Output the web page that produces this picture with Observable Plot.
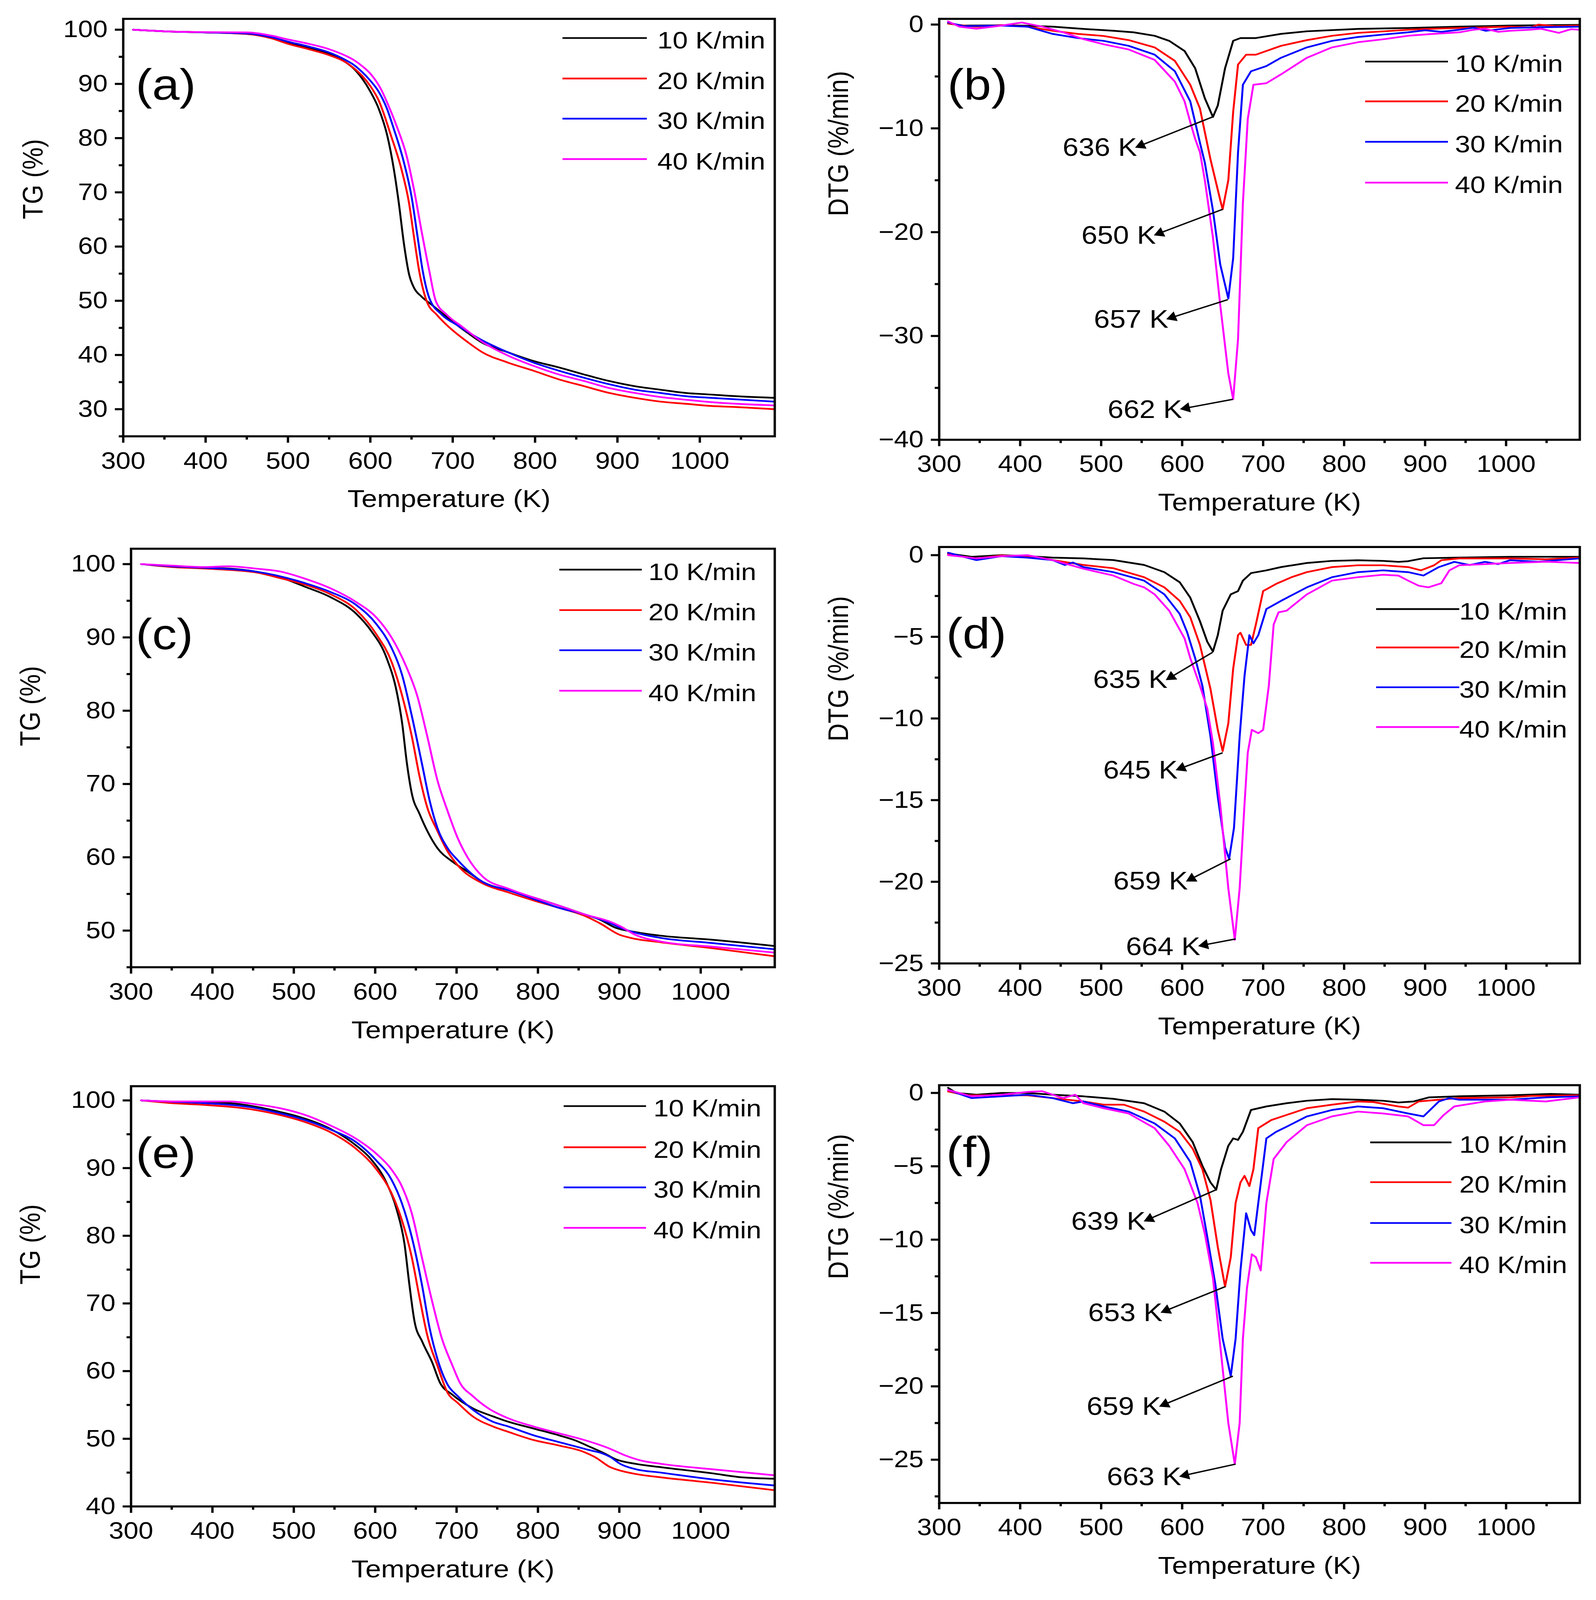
<!DOCTYPE html>
<html>
<head>
<meta charset="utf-8">
<script src="https://cdn.jsdelivr.net/npm/d3@7"></script>
<script src="https://cdn.jsdelivr.net/npm/@observablehq/plot@0.6"></script>
<style>
  html, body { margin: 0; background: #fff; overflow: hidden; font-family: "Liberation Sans", Arial, sans-serif; }
  #fig { position: relative; width: 4086px; height: 4626px; background: #fff; transform-origin: 0 0; }
  #fig > svg, #fig > figure { position: absolute; margin: 0; }
</style>
</head>
<body>
<div id="fig"></div>
<script>
// heating rates and colours
const rates = ["10 K/min", "20 K/min", "30 K/min", "40 K/min"];
const colors = ["#000000", "#ff0000", "#0000ff", "#ff00ff"];

// axis ticks
const xTicks = [300, 400, 500, 600, 700, 800, 900, 1000];
const xMinor = [350, 450, 550, 650, 750, 850, 950, 1050];
const ticksA = [30, 40, 50, 60, 70, 80, 90, 100];
const minorA = [25, 35, 45, 55, 65, 75, 85, 95];
const ticksB = [-40, -30, -20, -10, 0];
const minorB = [-35, -25, -15, -5];
const ticksC = [50, 60, 70, 80, 90, 100];
const minorC = [45, 55, 65, 75, 85, 95];
const ticksD = [-25, -20, -15, -10, -5, 0];
const minorD = [-22.5, -17.5, -12.5, -7.5, -2.5];
const ticksE = [40, 50, 60, 70, 80, 90, 100];
const minorE = [45, 55, 65, 75, 85, 95];
const ticksF = [-25, -20, -15, -10, -5, 0];
const minorF = [-27.5, -22.5, -17.5, -12.5, -7.5, -2.5];

// (a) TG, [T (K), mass %]
const tgA10 = [[312,100],[350,99.7],[400,99.5],[450,99.25],[480,98.5],[500,97.6],[525,96.6],[550,95.5],[570,94],[580,92.8],[590,91],[600,88.6],[610,85.5],[620.5,80.5],[628.5,74.3],[634.6,68],[640.8,60.5],[647,54.9],[653,52.4],[662,50.8],[674.6,49.25],[705.5,45.5],[718,44.1],[736,42.25],[767,40.5],[798,38.9],[829,37.7],[859.5,36.4],[890,35.2],[921,34.25],[952,33.6],[983,33],[1013.5,32.7],[1044,32.4],[1090,32.1]];
const tgA20 = [[312,100],[350,99.7],[400,99.5],[450,99.2],[480,98.4],[500,97.4],[525,96.4],[550,95.3],[570,94],[580,92.9],[590,91.5],[600,89.6],[610,87],[625,80.5],[637.7,74.3],[647,68],[653,61.75],[659.3,55.5],[668.5,49.9],[680.8,47.4],[693,45.5],[718,42.4],[736,40.5],[767,38.6],[798,37.1],[829,35.5],[859.5,34.25],[890,33],[921,32.1],[952,31.4],[983,31],[1013.5,30.6],[1044,30.4],[1090,30]];
const tgA30 = [[312,100],[350,99.7],[400,99.5],[450,99.3],[480,98.6],[500,97.8],[525,96.9],[550,95.8],[570,94.4],[580,93.5],[590,92.2],[600,90.6],[610,88.6],[620,85.5],[628.4,81.75],[640.8,75.5],[650,69.25],[657.4,61.75],[663.6,55.5],[671.6,50.5],[687,47.4],[705.5,45.5],[736,42.7],[767,40.5],[798,38.6],[829,37.1],[859.5,35.8],[890,34.6],[921,33.6],[952,33],[983,32.4],[1013.5,32.1],[1090,31.4]];
const tgA40 = [[312,100],[350,99.7],[400,99.55],[450,99.5],[480,98.9],[500,98.2],[525,97.4],[550,96.4],[570,95.2],[580,94.4],[590,93.3],[600,91.9],[613,89],[622,86],[631.5,82.4],[644,76.75],[653,70.5],[662,63],[671.6,55.5],[679.6,49.9],[693,47.4],[711.6,45.2],[736,42.4],[767,39.9],[798,38],[829,36.4],[859.5,35.2],[890,33.9],[921,33],[952,32.25],[983,31.75],[1013.5,31.3],[1090,30.7]];

// (b) DTG, [T (K), %/min]
const dtgB10 = [[311,0.1],[330,-0.1],[377,-0.07],[410,-0.12],[440,-0.2],[478,-0.42],[515,-0.6],[540,-0.75],[566,-1.08],[584,-1.57],[603,-2.55],[616,-4.2],[628,-7.1],[638,-8.9],[644,-7.8],[653,-4.2],[663,-1.57],[672,-1.3],[691,-1.3],[722,-0.9],[754,-0.65],[817,-0.42],[879,-0.33],[942,-0.2],[1005,-0.1],[1060,-0.05],[1091,-0.03]];
const dtgB20 = [[311,0.1],[330,-0.1],[346,-0.2],[377,-0.05],[409,-0.2],[440,-0.6],[471,-0.9],[503,-1.1],[534,-1.5],[566,-2.2],[591,-3.5],[610,-5.8],[622,-8.1],[635,-13],[647,-16.9],[650,-17.8],[657,-15],[663,-8.4],[669,-3.85],[679,-2.9],[691,-2.9],[722,-2.05],[754,-1.5],[785,-1.08],[817,-0.8],[850,-0.65],[879,-0.5],[910,-0.4],[942,-0.33],[1005,-0.2],[1030,-0.3],[1040,0],[1060,-0.15],[1091,-0.1]];
const dtgB30 = [[311,0.2],[330,-0.15],[377,-0.1],[409,-0.2],[440,-0.9],[471,-1.3],[503,-1.57],[534,-2.05],[566,-2.9],[591,-4.5],[610,-7.4],[622,-11.4],[628,-13.3],[638,-17.9],[647,-23.1],[657,-26.4],[663,-22.5],[669,-12.3],[675,-5.8],[685,-4.5],[704,-4],[722,-3.2],[754,-2.2],[785,-1.57],[817,-1.2],[850,-0.95],[879,-0.75],[900,-0.55],[920,-0.7],[942,-0.5],[960,-0.3],[975,-0.6],[1005,-0.33],[1050,-0.25],[1091,-0.2]];
const dtgB40 = [[311,0.3],[325,-0.2],[346,-0.4],[377,-0.1],[402,0.2],[427,-0.2],[453,-0.75],[478,-1.4],[503,-1.9],[534,-2.4],[566,-3.4],[591,-5.5],[603,-7.4],[610,-9.4],[616,-11],[622,-12.3],[628,-15],[638,-20.5],[647,-27],[657,-33.6],[663,-36.1],[669,-30.3],[675,-17.2],[681,-9.1],[688,-5.8],[704,-5.65],[722,-4.8],[754,-3.2],[785,-2.2],[817,-1.7],[850,-1.4],[879,-1.08],[910,-0.9],[942,-0.75],[960,-0.5],[974,-0.4],[990,-0.7],[1005,-0.6],[1030,-0.5],[1043,-0.4],[1065,-0.8],[1080,-0.45],[1091,-0.5]];

// (c) TG
const tgC10 = [[312.5,100],[350,99.7],[389,99.5],[420,99.4],[452,99],[483,98.2],[514,96.9],[545,95.5],[577,93.2],[595,90.9],[614,87.2],[626.6,82.5],[633,78.4],[639,72.8],[645,68.7],[654.6,65.9],[664,63.6],[676.5,61.25],[695,59.4],[714,58],[732.7,56.6],[764,55.5],[795,54.5],[826,53.4],[857.6,52.2],[876,51.5],[895,50.4],[920,49.8],[951,49.3],[1014,48.75],[1090.5,47.9]];
const tgC20 = [[312.5,100],[350,99.6],[389,99.4],[452,98.9],[483,98.1],[514,97.2],[545,95.9],[577,93.7],[601.6,90.4],[620,86.7],[633,82.1],[645,76.5],[654.6,71],[664,66.8],[676.5,63.6],[689,60.8],[701.5,58.9],[732.7,56.4],[764,55.2],[795,54.1],[826,53.1],[857.6,52],[876,51],[901,49.4],[914,49],[951,48.4],[1014,47.6],[1090.5,46.5]];
const tgC30 = [[312.5,100],[350,99.7],[389,99.5],[452,99],[514,97.4],[545,96.2],[577,94.4],[601.6,91.8],[620,88.6],[633,84.9],[645,79.3],[657.4,72.8],[667,67.7],[676.5,64],[689,61.25],[701.5,59.6],[732.7,56.6],[764,55.5],[795,54.3],[826,53.1],[857.6,52.2],[889,51],[901,50.4],[920,49.7],[951,49],[1014,48.3],[1090.5,47.45]];
const tgC40 = [[312.5,100],[350,99.8],[389,99.6],[420,99.7],[452,99.4],[483,99],[514,98],[545,96.7],[577,94.8],[601.6,92.7],[620,90],[639,85.8],[651.5,82.1],[664,76.5],[676.5,70.5],[689,66.3],[701.5,62.6],[714,59.9],[732.7,57.3],[764,55.7],[795,54.5],[826,53.4],[857.6,52.2],[889,51.2],[901,50.6],[920,49.4],[951,48.5],[1014,47.8],[1090.5,47]];

// (d) DTG
const dtgD10 = [[311,0.1],[340,-0.1],[377,0],[409,-0.06],[440,-0.15],[478,-0.2],[515,-0.3],[553,-0.6],[578,-1.04],[597,-1.66],[610,-2.6],[622,-4.05],[631,-5.3],[638,-5.9],[644,-4.9],[650,-3.4],[660,-2.4],[669,-2.2],[675,-1.56],[685,-1.1],[704,-0.93],[722,-0.73],[754,-0.48],[785,-0.35],[817,-0.31],[848,-0.35],[867,-0.41],[879,-0.37],[898,-0.19],[942,-0.15],[1005,-0.1],[1091,-0.1]];
const dtgD20 = [[311,0.05],[330,-0.1],[346,-0.2],[377,-0.02],[409,-0.1],[440,-0.3],[478,-0.6],[515,-0.8],[553,-1.35],[578,-1.97],[597,-2.8],[610,-3.8],[622,-5.5],[635,-8.2],[644,-10.7],[650,-12],[657,-10.3],[663,-6.95],[669,-4.9],[672,-4.75],[679,-5.5],[685,-5.5],[691,-4.25],[700,-2.2],[716,-1.76],[735,-1.35],[754,-1.04],[785,-0.73],[817,-0.62],[848,-0.62],[879,-0.73],[895,-0.93],[911,-0.62],[920,-0.31],[942,-0.2],[1005,-0.2],[1050,-0.25],[1091,-0.15]];
const dtgD30 = [[311,0.15],[330,-0.1],[346,-0.3],[377,-0.06],[409,-0.15],[440,-0.3],[455,-0.6],[465,-0.45],[478,-0.73],[515,-1.04],[553,-1.56],[578,-2.4],[597,-3.6],[606,-4.7],[616,-6.3],[625,-8],[635,-11.1],[644,-14.8],[653,-17.9],[658,-18.6],[664,-16.7],[671,-11.1],[677,-7.4],[683,-4.9],[688,-5.4],[694,-4.9],[704,-3.3],[722,-2.8],[754,-1.97],[785,-1.35],[817,-1.04],[848,-0.93],[879,-1.04],[898,-1.25],[917,-0.73],[936,-0.41],[955,-0.6],[974,-0.41],[990,-0.55],[1005,-0.31],[1040,-0.4],[1091,-0.2]];
const dtgD40 = [[311,0],[330,-0.1],[346,-0.2],[377,-0.06],[409,0],[440,-0.3],[478,-0.83],[515,-1.25],[540,-1.76],[553,-1.97],[566,-2.4],[584,-3.4],[603,-5.1],[610,-6.3],[622,-8],[631,-9.4],[638,-11.5],[647,-15.25],[657,-20.4],[665,-23.55],[671,-20.4],[677,-15.25],[681,-12.1],[686,-10.7],[694,-10.9],[700,-10.7],[707,-8],[713,-4.25],[719,-3.5],[729,-3.4],[754,-2.4],[785,-1.56],[817,-1.35],[848,-1.2],[867,-1.25],[879,-1.56],[892,-1.87],[904,-1.97],[920,-1.72],[930,-0.93],[942,-0.62],[1005,-0.48],[1050,-0.4],[1091,-0.48]];

// (e) TG
const tgE10 = [[312.5,100],[350,99.8],[389,99.7],[420.5,99.6],[452,99.1],[483,98.3],[514,97.3],[545,95.8],[577,93.3],[595,91.3],[614,87.8],[626.6,83.8],[636,78.8],[642,72.8],[648.4,67.3],[658,64.3],[670,61.3],[679.6,58.3],[695,56.5],[720,54.5],[745,53.3],[764,52.5],[795,51.5],[826,50.5],[845,49.8],[864,48.8],[882.5,47.8],[895,47],[920,46.3],[951,45.8],[1014,44.9],[1051,44.3],[1090.5,44.1]];
const tgE20 = [[312.5,100],[350,99.6],[389,99.35],[452,98.6],[483,97.85],[514,96.8],[545,95.3],[577,92.8],[601.6,89.8],[620,86.3],[632.8,82.3],[645,76.8],[654.6,70.8],[664,65.3],[676.5,60.8],[689,56.8],[701.5,55.3],[720,53.3],[745,51.8],[764,51],[795,49.8],[826,49],[857.6,48],[870,47.3],[889,45.8],[901,45.3],[920,44.8],[951,44.3],[1014,43.5],[1090.5,42.4]];
const tgE30 = [[312.5,100],[350,99.8],[389,99.6],[452,98.9],[483,98.1],[514,97.1],[545,95.7],[577,93.8],[601.6,91.1],[620,88.3],[632.8,84.8],[645,79.8],[657.4,72.8],[667,66.3],[676.5,61.8],[689,58],[701.5,56.3],[720,54.3],[745,52.5],[764,51.8],[795,50.5],[826,49.5],[857.6,48.5],[889,47.3],[901,46.3],[920,45.5],[951,45],[1014,44],[1090.5,43.1]];
const tgE40 = [[312.5,100],[350,99.85],[389,99.85],[420.5,99.85],[452,99.45],[483,98.85],[514,97.85],[545,96.3],[577,94.3],[601.6,92.1],[620,89.8],[632.8,87.3],[645,83.3],[657.4,76.8],[670,70.3],[682,64.8],[695,60.8],[704,58.3],[720,56.3],[739,54.5],[764,53],[795,51.8],[826,50.8],[857.6,49.8],[889,48.5],[908,47.5],[926,46.8],[951,46.3],[1014,45.5],[1090.5,44.6]];

// (f) DTG
const dtgF10 = [[311,0.35],[321,0],[346,-0.12],[377,0],[409,0],[440,-0.12],[478,-0.23],[515,-0.4],[553,-0.7],[578,-1.27],[597,-2.08],[613,-3.35],[625,-4.97],[635,-6.1],[642,-6.6],[648,-5.2],[657,-3.6],[663,-3.1],[669,-3.2],[675,-2.65],[685,-1.16],[704,-0.92],[729,-0.7],[754,-0.53],[785,-0.42],[817,-0.46],[848,-0.53],[867,-0.65],[886,-0.58],[905,-0.3],[942,-0.23],[1005,-0.16],[1055,-0.07],[1091,-0.12]];
const dtgF20 = [[311,0.1],[333,-0.16],[377,-0.16],[409,-0.16],[440,-0.35],[478,-0.58],[503,-0.8],[528,-0.8],[553,-1.27],[578,-1.96],[597,-2.65],[613,-3.8],[625,-5.2],[635,-7.3],[644,-10.5],[653,-13.2],[660,-11.2],[666,-7.5],[672,-6.1],[677,-5.65],[683,-6.35],[688,-5.2],[694,-2.4],[710,-1.85],[729,-1.5],[754,-1.04],[785,-0.8],[817,-0.58],[836,-0.62],[867,-0.92],[879,-1],[892,-0.58],[917,-0.46],[942,-0.35],[1005,-0.3],[1030,-0.2],[1091,-0.16]];
const dtgF30 = [[311,0.2],[340,-0.35],[377,-0.23],[409,-0.12],[440,-0.35],[465,-0.7],[478,-0.58],[503,-0.92],[534,-1.27],[566,-2.08],[591,-3.1],[610,-4.7],[622,-7],[631,-9.8],[641,-13.05],[650,-16.75],[660,-19.3],[666,-16.75],[672,-12.1],[679,-8.2],[685,-9.35],[689,-9.7],[694,-7.5],[704,-3.1],[716,-2.65],[729,-2.3],[754,-1.6],[785,-1.16],[817,-0.92],[848,-1.04],[879,-1.4],[898,-1.6],[917,-0.58],[930,-0.35],[942,-0.46],[1005,-0.46],[1050,-0.3],[1091,-0.23]];
const dtgF40 = [[311,0.2],[340,-0.23],[377,-0.12],[409,0.07],[427,0.12],[453,-0.35],[468,-0.12],[478,-0.7],[503,-1.04],[534,-1.4],[566,-2.4],[584,-3.6],[603,-5.2],[619,-7.5],[628,-9.6],[638,-12.6],[647,-17.2],[657,-22.5],[665,-25.3],[671,-22.5],[675,-16.75],[680,-13.3],[686,-11],[691,-11.2],[697,-12.1],[704,-7.5],[713,-4.5],[729,-3.35],[754,-2.2],[785,-1.6],[817,-1.27],[848,-1.4],[879,-1.6],[898,-2.2],[911,-2.2],[923,-1.5],[936,-0.92],[974,-0.58],[1005,-0.46],[1049,-0.58],[1091,-0.3]];

// peak annotations: label, peak point, arrow tip (data units)
const peakLabelsB = ["636 K", "650 K", "657 K", "662 K"];
const peakTB = [637.5, 650, 656.3, 662.6];
const peakVB = [-8.9, -17.8, -26.5, -36.1];
const tipTB = [545.4, 568.6, 584, 601];
const tipVB = [-11.75, -20.2, -28.3, -37.0];

const peakLabelsD = ["635 K", "645 K", "659 K", "664 K"];
const peakTD = [637.5, 650, 659.7, 666];
const peakVD = [-5.95, -12.1, -18.6, -23.5];
const tipTD = [583, 595.5, 608, 623.5];
const tipVD = [-7.56, -13.1, -19.9, -23.9];

const peakLabelsF = ["639 K", "653 K", "659 K", "663 K"];
const peakTF = [641.9, 653.4, 662.6, 666];
const peakVF = [-6.6, -13.2, -19.3, -25.3];
const tipTF = [556, 576.8, 575, 600];
const tipVF = [-8.67, -14.9, -21.3, -26.1];

function annotations(labels, pT, pV, tT, tV) {
  return labels.map((label, i) => ({label, x1: pT[i], y1: pV[i], x2: tT[i], y2: tV[i]}));
}

const panels = [
  {tag: "(a)", series: [tgA10, tgA20, tgA30, tgA40], yDomain: [25, 102], yTicks: ticksA, yMinor: minorA, yTitle: "TG (%)", curve: "monotone-x", ann: null,
   left: 0, top: 0, height: 1540, margins: [54, 60, 279, 315], yTitleDx: -230, yTitleDy: -24, tagDx: 32, tagDy: 144,
   legend: {lx: 1440, len: 216, tx: 1683, rows: [116, 233, 349, 466]}},
  {tag: "(b)", series: [dtgB10, dtgB20, dtgB30, dtgB40], yDomain: [-40, 0.55], yTicks: ticksB, yMinor: minorB, yTitle: "DTG (%/min)", curve: "linear",
   ann: annotations(peakLabelsB, peakTB, peakVB, tipTB, tipVB),
   left: 2043, top: 0, height: 1540, margins: [54, 42, 269, 361], yTitleDx: -257, yTitleDy: -38, tagDx: 21, tagDy: 144,
   legend: {lx: 3495, len: 212, tx: 3725, rows: [184, 299, 416, 534]}},
  {tag: "(c)", series: [tgC10, tgC20, tgC30, tgC40], yDomain: [45, 102.1], yTicks: ticksC, yMinor: minorC, yTitle: "TG (%)", curve: "monotone-x", ann: null,
   left: 0, top: 1540, height: 1540, margins: [46, 60, 284, 335], yTitleDx: -257, yTitleDy: -34, tagDx: 12, tagDy: 201,
   legend: {lx: 1432, len: 211, tx: 1660, rows: [1653, 1770, 1886, 2003]}},
  {tag: "(d)", series: [dtgD10, dtgD20, dtgD30, dtgD40], yDomain: [-25, 0.5], yTicks: ticksD, yMinor: minorD, yTitle: "DTG (%/min)", curve: "linear",
   ann: annotations(peakLabelsD, peakTD, peakVD, tipTD, tipVD),
   left: 2043, top: 1540, height: 1540, margins: [41, 42, 295, 361], yTitleDx: -257, yTitleDy: -40, tagDx: 18, tagDy: 204,
   legend: {lx: 3523, len: 213, tx: 3736, rows: [1767, 1878, 1993, 2108]}},
  {tag: "(e)", series: [tgE10, tgE20, tgE30, tgE40], yDomain: [40, 102.1], yTicks: ticksE, yMinor: minorE, yTitle: "TG (%)", curve: "monotone-x", ann: null,
   left: 0, top: 3086, height: 1540, margins: [54, 60, 271, 335], yTitleDx: -257, yTitleDy: -34, tagDx: 12, tagDy: 147,
   legend: {lx: 1443, len: 211, tx: 1673, rows: [3204, 3323, 3439, 3556]}},
  {tag: "(f)", series: [dtgF10, dtgF20, dtgF30, dtgF40], yDomain: [-27.95, 0.53], yTicks: ticksF, yMinor: minorF, yTitle: "DTG (%/min)", curve: "linear",
   ann: annotations(peakLabelsF, peakTF, peakVF, tipTF, tipVF),
   left: 2043, top: 3086, height: 1540, margins: [51, 42, 281, 361], yTitleDx: -257, yTitleDy: -43, tagDx: 18, tagDy: 148,
   legend: {lx: 3508, len: 208, tx: 3736, rows: [3309, 3424, 3542, 3657]}}
];

const fmt = d => d < 0 ? "\u2212" + Math.abs(d) : String(d);
const fig = document.getElementById("fig");
const W = 2043, xDomain = [300, 1091];

for (const p of panels) {
  const [mt, mr, mb, ml] = p.margins;
  // pixels per data unit, used only to orient the arrowheads
  const kx = (W - ml - mr) / (xDomain[1] - xDomain[0]);
  const ky = (p.height - mt - mb) / (p.yDomain[1] - p.yDomain[0]);
  const marks = [
    Plot.axisX({ticks: xMinor, tickSize: 10, fill: "none", strokeWidth: 6}),
    Plot.axisX({ticks: xTicks, tickSize: 19, tickPadding: 26, fontSize: 68, strokeWidth: 6, label: null, tickFormat: fmt}),
    Plot.axisY({ticks: p.yMinor, tickSize: 11, fill: "none", strokeWidth: 6}),
    Plot.axisY({ticks: p.yTicks, tickSize: 21, tickPadding: 19, fontSize: 68, strokeWidth: 6, label: null, tickFormat: fmt})
  ];
  p.series.forEach((s, i) => {
    marks.push(Plot.line(s, {x: d => d[0], y: d => d[1], stroke: colors[i], strokeWidth: 5, curve: p.curve, clip: true}));
  });
  if (p.ann) {
    const angle = d => Math.atan2((d.x2 - d.x1) * kx, (d.y2 - d.y1) * ky) * 180 / Math.PI;
    const back = (d, k) => {
      const len = Math.hypot((d.x2 - d.x1) * kx, (d.y2 - d.y1) * ky);
      return k / len;
    };
    marks.push(Plot.link(p.ann, {x1: "x1", y1: "y1", x2: "x2", y2: "y2", stroke: "black", strokeWidth: 4}));
    marks.push(Plot.dot(p.ann, {
      x: d => d.x2 - (d.x2 - d.x1) * back(d, 9),
      y: d => d.y2 - (d.y2 - d.y1) * back(d, 9),
      symbol: "triangle", r: 11, fill: "black", stroke: "none", rotate: angle
    }));
    marks.push(Plot.text(p.ann, {x: "x2", y: "y2", text: "label", textAnchor: "end", dx: -2, dy: 4, fontSize: 73, fill: "black"}));
  }
  marks.push(
    Plot.frame({stroke: "black", strokeWidth: 6}),
    Plot.text(["Temperature (K)"], {frameAnchor: "bottom", dy: 205, fontSize: 72, fill: "black"}),
    Plot.text([p.yTitle], {frameAnchor: "left", dx: p.yTitleDx, dy: p.yTitleDy, rotate: -90, fontSize: 72, fill: "black"}),
    Plot.text([p.tag], {frameAnchor: "top-left", dx: p.tagDx, dy: p.tagDy, textAnchor: "start", fontSize: 126, fill: "black"})
  );
  const chart = Plot.plot({
    width: W,
    height: p.height,
    marginTop: mt, marginRight: mr, marginBottom: mb, marginLeft: ml,
    x: {domain: xDomain},
    y: {domain: p.yDomain},
    style: {fontFamily: "'Liberation Sans', Arial, sans-serif", color: "black", background: "transparent", overflow: "visible"},
    marks
  });
  chart.style.left = p.left + "px";
  chart.style.top = p.top + "px";
  fig.appendChild(chart);

  // legend inside the frame, drawn as an overlay
  const L = p.legend;
  rates.forEach((r, i) => {
    const row = document.createElement("div");
    row.style.cssText = `position:absolute;left:${L.lx}px;top:${L.rows[i] - 45}px;height:90px;display:flex;align-items:center;font-size:70px;line-height:1;white-space:nowrap;color:#000`;
    row.innerHTML = `<svg width="${L.len}" height="10" style="display:block;margin-top:-12px"><line x1="0" x2="${L.len}" y1="5" y2="5" stroke="${colors[i]}" stroke-width="5"/></svg><span style="margin-left:${L.tx - L.lx - L.len}px">${r}</span>`;
    fig.appendChild(row);
  });
}

// the window may be shorter than the figure: fit it vertically
const fitY = Math.min(1, window.innerHeight / 4626);
fig.style.transform = `scale(1, ${fitY})`;
</script>
</body>
</html>
